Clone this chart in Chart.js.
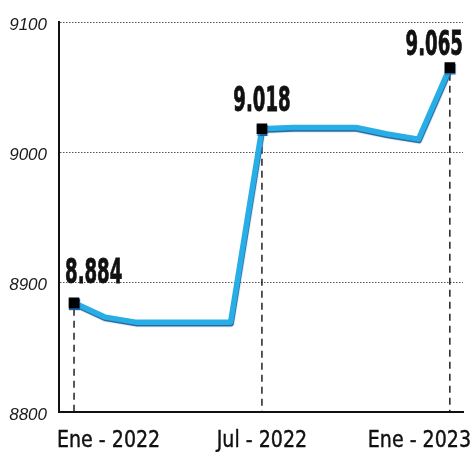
<!DOCTYPE html>
<html>
<head>
<meta charset="utf-8">
<script src="https://cdn.jsdelivr.net/npm/chart.js@4.4.1/dist/chart.umd.min.js"></script>
<style>
  html, body { margin: 0; padding: 0; background: #ffffff; }
  #wrap { width: 473px; height: 452px; position: relative; }
</style>
</head>
<body>
<div id="wrap"><canvas id="chart"></canvas></div>
<script>
// monthly values, Ene 2022 .. Ene 2023
const months = [0, 1, 2, 3, 4, 5, 6, 7, 8, 9, 10, 11, 12];
const values = [8884, 8873, 8869, 8869, 8869, 8869, 9018, 9019, 9019, 9019, 9014, 9010, 9065];
const markedIdx = [0, 6, 12];
const xTickLabels = ['Ene - 2022', 'Jul - 2022', 'Ene - 2023'];
const yTicks = [8800, 8900, 9000, 9100];

const lineColor = '#27aee6';
const shadowColor = '#1c5f9e';

function fmt(v) {
  const s = String(v);
  return s.slice(0, s.length - 3) + '.' + s.slice(-3);
}

// dashed drop lines from the marked points to the x axis
const dropLines = {
  id: 'dropLines',
  beforeDatasetsDraw(chart) {
    const ctx = chart.ctx;
    const meta = chart.getDatasetMeta(0);
    const bottom = chart.chartArea.bottom;
    ctx.save();
    ctx.strokeStyle = '#111';
    ctx.lineWidth = 1.4;
    ctx.setLineDash([7, 5]);
    markedIdx.forEach(i => {
      const p = meta.data[i];
      ctx.beginPath();
      ctx.moveTo(p.x, p.y + 6);
      ctx.lineTo(p.x, bottom);
      ctx.stroke();
    });
    ctx.restore();
  }
};

// shadow under the line
const lineShadow = {
  id: 'lineShadow',
  beforeDatasetDraw(chart) {
    const ctx = chart.ctx;
    ctx.save();
    ctx.shadowColor = shadowColor;
    ctx.shadowOffsetY = 1.5;
    ctx.shadowOffsetX = 0.5;
    ctx.shadowBlur = 1;
  },
  afterDatasetDraw(chart) {
    chart.ctx.restore();
  }
};

// value labels and x labels
const labelsPlugin = {
  id: 'labelsPlugin',
  afterDraw(chart) {
    const ctx = chart.ctx;
    const meta = chart.getDatasetMeta(0);
    const area = chart.chartArea;
    ctx.save();
    ctx.fillStyle = '#111';
    ctx.strokeStyle = '#111';
    ctx.textBaseline = 'alphabetic';

    // value labels, condensed
    const valAlign = ['left', 'center', 'right'];
    const valDx = [-9, 0, 13];
    const valDy = [-20, -18, -13];
    ctx.font = 'bold 33px "Liberation Sans Narrow", "DejaVu Sans Condensed", "Liberation Sans", sans-serif';
    markedIdx.forEach((i, k) => {
      const p = meta.data[i];
      const txt = fmt(values[i]);
      const w = ctx.measureText(txt).width;
      const sx = 0.61;
      let x = p.x + valDx[k];
      let left;
      if (valAlign[k] === 'left') left = x;
      else if (valAlign[k] === 'center') left = x - w * sx / 2;
      else left = x - w * sx;
      ctx.save();
      ctx.translate(left, p.y + valDy[k]);
      ctx.scale(sx, 1);
      ctx.textAlign = 'left';
      ctx.lineWidth = 0.8;
      ctx.fillText(txt, 0, 0);
      ctx.strokeText(txt, 0, 0);
      ctx.restore();
    });

    // x tick labels
    ctx.font = '23px "Liberation Sans Narrow", "DejaVu Sans Condensed", "Liberation Sans", sans-serif';
    const xs = chart.scales.x;
    const sx2 = 0.92;
    const base = area.bottom + 35;
    const pos = [
      { left: area.left - 2 },
      { center: xs.getPixelForValue(6) },
      { right: area.right + 8 }
    ];
    xTickLabels.forEach((t, k) => {
      const w = ctx.measureText(t).width * sx2;
      let left;
      if (pos[k].left !== undefined) left = pos[k].left;
      else if (pos[k].center !== undefined) left = pos[k].center - w / 2;
      else left = pos[k].right - w;
      ctx.save();
      ctx.translate(left, base);
      ctx.scale(sx2, 1);
      ctx.lineWidth = 0.4;
      ctx.fillText(t, 0, 0);
      ctx.strokeText(t, 0, 0);
      ctx.restore();
    });
    ctx.restore();
  }
};

const ctx = document.getElementById('chart');
const myChart = new Chart(ctx, {
  type: 'line',
  plugins: [dropLines, lineShadow, labelsPlugin],
  data: {
    datasets: [
      {
        data: months.map((m, i) => ({ x: m, y: values[i] })),
        borderColor: lineColor,
        borderWidth: 5.5,
        borderJoinStyle: 'round',
        borderCapStyle: 'round',
        tension: 0,
        pointStyle: 'rect',
        pointRadius: function(context) {
          return markedIdx.includes(context.dataIndex) ? 7.5 : 0;
        },
        pointBackgroundColor: '#000',
        pointBorderColor: '#000',
        pointBorderWidth: 0,
        pointHoverRadius: 0,
      }
    ]
  },
  options: {
    responsive: true,
    maintainAspectRatio: false,
    animation: false,
    layout: {
      padding: { left: 9, top: 18, right: 10, bottom: 40 }
    },
    plugins: {
      legend: { display: false },
      tooltip: { enabled: false },
    },
    scales: {
      x: {
        type: 'linear',
        min: -0.48,
        max: 12.42,
        ticks: { display: false },
        grid: {
          display: true,
          drawTicks: false,
          color: 'transparent',
        },
        border: { display: true, color: '#111', width: 2 },
      },
      y: {
        type: 'linear',
        min: yTicks[0],
        max: yTicks[yTicks.length - 1],
        afterBuildTicks: function(axis) {
          axis.ticks = yTicks.map(v => ({ value: v }));
        },
        afterFit: function(axis) {
          axis.width = 50;
        },
        ticks: {
          padding: 12,
          labelOffset: 3,
          color: '#1a1a1a',
          font: { family: '"Liberation Sans", Arial, sans-serif', size: 17, style: 'italic' },
          callback: v => String(v),
        },
        grid: {
          drawTicks: false,
          lineWidth: 1,
          color: function(context) {
            return context.tick && context.tick.value === yTicks[0] ? 'transparent' : '#555';
          },
        },
        border: { display: true, color: '#111', width: 2, dash: [1.5, 1.5] },
      },
    },
  },
});
</script>
</body>
</html>
